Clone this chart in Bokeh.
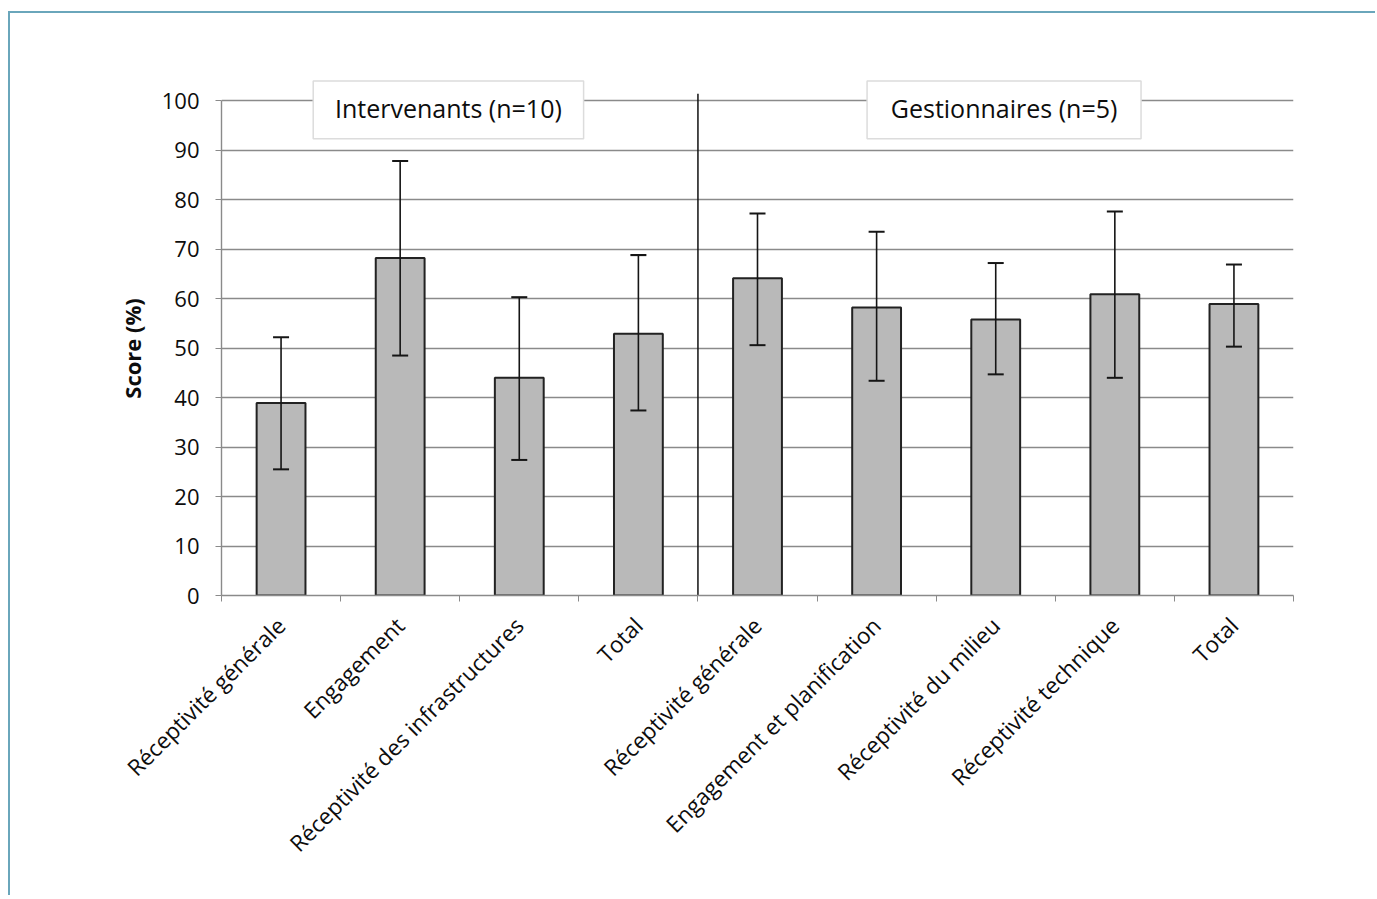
import math
from bokeh.plotting import figure
from bokeh.models import (ColumnDataSource, FixedTicker, Whisker, TeeHead, Label,
                          CustomJSTickFormatter, Range1d)
from bokeh.embed import file_html
from bokeh.resources import INLINE

categories = ["Réceptivité générale", "Engagement", "Réceptivité des infrastructures", "Total",
              "Réceptivité générale", "Engagement et planification", "Réceptivité du milieu",
              "Réceptivité technique", "Total"]
means = [38.9, 68.2, 44.0, 52.9, 64.1, 58.2, 55.8, 60.9, 58.9]
upper = [52.2, 87.8, 60.3, 68.8, 77.2, 73.5, 67.2, 77.6, 66.9]
lower = [25.5, 48.5, 27.4, 37.4, 50.6, 43.4, 44.7, 44.0, 50.3]
groups = ["Intervenants (n=10)", "Gestionnaires (n=5)"]
group_sizes = [4, 5]
y_ticks = list(range(0, 101, 10))

FONT = "Open Sans"
GRID = "#8a8a8a"
BORDER = "#6aa6bb"
TXT = "#0d0d0d"

xs = [i + 0.5 for i in range(len(categories))]
src = ColumnDataSource(dict(x=xs, mean=means, upper=upper, lower=lower))

p = figure(frame_width=1072, frame_height=517, x_range=Range1d(0, len(categories)),
           y_range=Range1d(0, 104.5), output_backend="svg", toolbar_location=None,
           min_border_left=211, min_border_top=65, min_border_right=82, min_border_bottom=300,
           background_fill_color="white", border_fill_color="white",
           styles={"border-left": f"2px solid {BORDER}", "border-top": f"2px solid {BORDER}",
                   "margin-top": "11px", "margin-left": "8px"})
p.outline_line_color = None

# grid
p.xgrid.visible = False
p.ygrid.ticker = FixedTicker(ticks=y_ticks)
p.ygrid.grid_line_color = GRID
p.ygrid.grid_line_width = 1.4

# group boxes
box_specs = [(0.77, 3.04), (5.42, 7.72)]
for g, (x0, x1) in zip(groups, box_specs):
    p.quad(left=x0, right=x1, bottom=92.3, top=104.0, fill_color="white",
           line_color="#dcdcdc", line_width=1.5)
    p.add_layout(Label(x=(x0 + x1) / 2, y=98.6, text=g, text_align="center",
                       text_baseline="middle", text_font=FONT, text_font_size="25px",
                       text_color=TXT))

# separator line
sep = group_sizes[0]
p.segment(x0=[sep], y0=[0], x1=[sep], y1=[101.4], line_color="#111111", line_width=1.5)

# bars
p.vbar(x="x", top="mean", bottom=0, width=0.41, source=src, fill_color="#b9b9b9",
       line_color="#222222", line_width=2)

# error bars
w = Whisker(base="x", upper="upper", lower="lower", source=src, line_color="#151515",
            line_width=1.6, level="overlay",
            upper_head=TeeHead(size=16, line_color="#151515", line_width=2),
            lower_head=TeeHead(size=16, line_color="#151515", line_width=2))
p.add_layout(w)

# y axis
ya = p.yaxis[0]
ya.ticker = FixedTicker(ticks=y_ticks)
ya.bounds = (0, 100)
ya.axis_line_color = GRID
ya.axis_line_width = 1.4
ya.major_tick_line_color = GRID
ya.major_tick_out = 6
ya.major_tick_in = 0
ya.minor_tick_line_color = None
ya.major_label_standoff = 16
ya.major_label_text_font = FONT
ya.major_label_text_font_size = "22px"
ya.major_label_text_color = TXT
ya.axis_label = "Score (%)" + "\u00a0" * 4
ya.axis_label_text_font = FONT
ya.axis_label_text_font_style = "bold"
ya.axis_label_text_font_size = "22px"
ya.axis_label_text_color = TXT
ya.axis_label_standoff = 12

# x axis
xa = p.xaxis[0]
xa.ticker = FixedTicker(ticks=xs, minor_ticks=list(range(len(categories) + 1)))
xa.formatter = CustomJSTickFormatter(args=dict(labels=categories),
                                     code="return labels[Math.floor(tick)];")
xa.axis_line_color = GRID
xa.axis_line_width = 1.4
xa.major_tick_out = 0
xa.major_tick_in = 0
xa.minor_tick_out = 6
xa.minor_tick_in = 0
xa.minor_tick_line_color = GRID
xa.major_label_orientation = math.pi / 4
xa.major_label_standoff = 20
xa.major_label_text_font = FONT
xa.major_label_text_font_size = "22.5px"
xa.major_label_text_color = TXT

open("out.html", "w").write(file_html(p, INLINE))
